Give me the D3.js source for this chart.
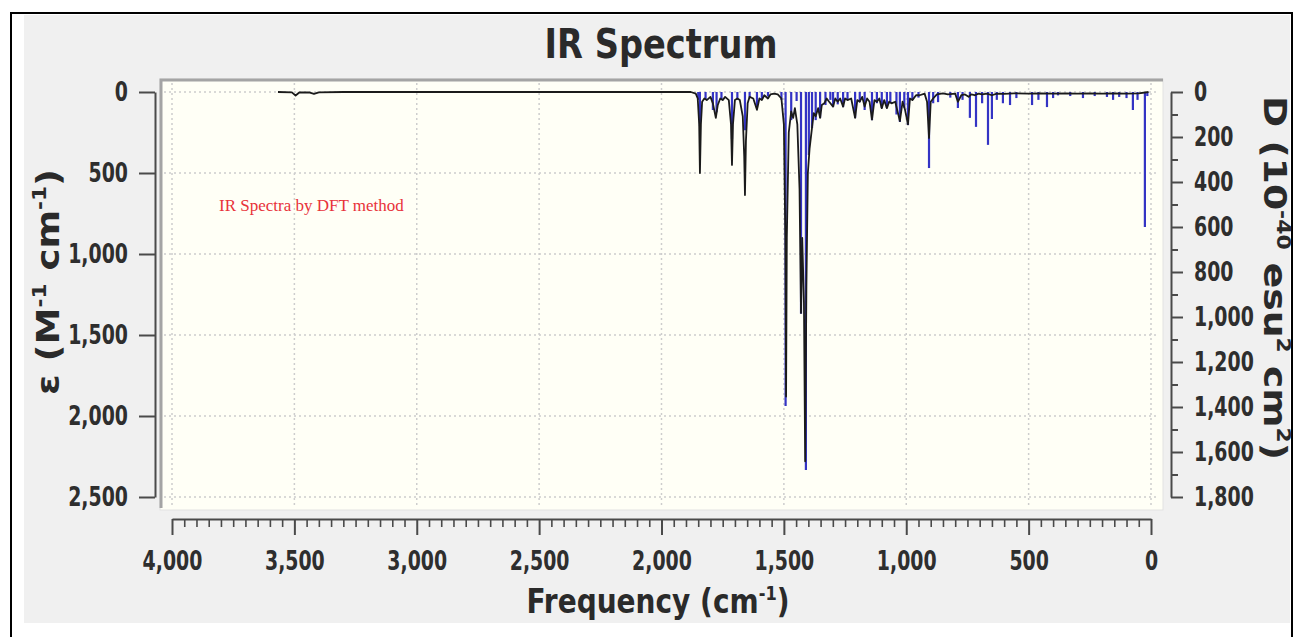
<!DOCTYPE html>
<html>
<head>
<meta charset="utf-8">
<script src="https://cdn.jsdelivr.net/npm/d3@7"></script>
<style>
  body { margin: 0; background: #fff; }
  svg { display: block; }
</style>
</head>
<body>
<div id="chart"></div>
<script>
// tick values
const freqTicks = [4000, 3500, 3000, 2500, 2000, 1500, 1000, 500, 0]
const epsTicks = [0, 500, 1000, 1500, 2000, 2500]
const dipTicks = [0, 200, 400, 600, 800, 1000, 1200, 1400, 1600, 1800]

// computed stick spectrum: frequency (cm-1) and dipole strength D (10^-40 esu^2 cm^2)
const stickFreq = [1850, 1843, 1820, 1790, 1775, 1755, 1712, 1690, 1659, 1640, 1610, 1590, 1565, 1510, 1493,
    1470, 1448, 1430, 1410, 1398, 1385, 1370, 1352, 1330, 1310, 1299, 1280, 1258, 1240, 1209, 1190, 1170,
    1140, 1120, 1100, 1079, 1065, 1040, 1026, 1008, 993, 975, 950, 907, 890, 870, 820, 789, 770, 740, 715,
    690, 666, 650, 630, 605, 576, 550, 486, 460, 425, 400, 380, 330, 278, 230, 180, 155, 130, 100, 74, 55, 25, 15]
const stickD = [35, 150, 35, 80, 90, 35, 210, 35, 170, 25, 70, 35, 20, 35, 1395,
    125, 40, 985, 1680, 280, 160, 125, 115, 58, 35, 67, 55, 67, 35, 115, 45, 80,
    125, 50, 71, 71, 50, 100, 133, 70, 147, 35, 25, 338, 50, 45, 25, 71, 35, 115, 155,
    50, 235, 120, 35, 50, 58, 27, 58, 35, 67, 27, 15, 18, 27, 18, 22, 35, 22, 27, 80, 35, 600, 18]

// broadened spectrum: frequency (cm-1) and molar absorptivity (M-1 cm-1)
const lineFreq = [3567, 3510, 3495, 3480, 3440, 3420, 3400, 3300, 2800, 2300, 1880, 1860,
    1852, 1846, 1843, 1839, 1834, 1825, 1815, 1800, 1790, 1778, 1770, 1760, 1750, 1740, 1725,
    1716, 1712, 1708, 1700, 1690, 1680, 1668, 1662, 1659, 1655, 1648, 1640, 1625, 1610, 1600,
    1590, 1580, 1565, 1555, 1540, 1525, 1510, 1500, 1494, 1491, 1488, 1480, 1470, 1462, 1455,
    1445, 1436, 1430, 1425, 1418, 1413, 1408, 1402, 1395, 1385, 1378, 1370, 1360, 1352, 1345,
    1335, 1325, 1315, 1299, 1290, 1280, 1270, 1258, 1250, 1240, 1225, 1209, 1200, 1190, 1180,
    1170, 1160, 1150, 1140, 1130, 1120, 1110, 1100, 1090, 1079, 1070, 1060, 1045, 1026, 1015,
    1005, 993, 985, 975, 960, 945, 925, 915, 907, 900, 890, 875, 850, 830, 800, 789, 775, 760,
    745, 735, 720, 705, 690, 670, 650, 630, 600, 560, 500, 450, 400, 350, 300, 250, 200, 150,
    100, 50, 10]
const lineEps = [0, 2, 22, 3, 2, 12, 2, 0, 0, 0, 0, 10,
    40, 200, 500, 200, 60, 40, 50, 30, 70, 160, 80, 40, 50, 30, 50,
    200, 450, 200, 50, 40, 50, 150, 400, 636, 300, 70, 30, 40, 110, 40,
    50, 20, 40, 15, 10, 15, 40, 200, 900, 1880, 900, 250, 120, 160, 100,
    200, 600, 1364, 900, 1300, 2280, 1200, 500, 350, 220, 130, 150, 100, 160, 80,
    70, 40, 60, 90, 40, 60, 40, 90, 40, 50, 40, 160, 50, 60, 30,
    90, 40, 60, 170, 50, 60, 40, 100, 50, 100, 60, 70, 60, 180, 60,
    110, 200, 40, 50, 20, 20, 10, 60, 284, 60, 40, 15, 8, 15, 10, 60, 20, 15,
    30, 15, 20, 10, 15, 10, 20, 10, 12, 8, 10, 8, 10, 8, 10, 8, 10, 8,
    10, 8, 0]

const width = 1296
const height = 637
const font = "'DejaVu Sans', sans-serif"

const svg = d3.select('#chart').append('svg')
    .attr('width', width)
    .attr('height', height)

// frame and panel
svg.append('rect')
    .attr('x', 24).attr('y', 15)
    .attr('width', 1266).attr('height', 608)
    .attr('fill', '#f0f0f0')
svg.append('path')
    .attr('d', 'M11,637V13H1292V637')
    .attr('fill', 'none')
    .attr('stroke', '#000')
    .attr('stroke-width', 2)

// plot area
const plot = {left: 160, top: 79, right: 1163, bottom: 510}
svg.append('rect')
    .attr('x', plot.left).attr('y', plot.top)
    .attr('width', plot.right - plot.left).attr('height', plot.bottom - plot.top)
    .attr('fill', '#fffff6')
    .attr('stroke', '#e2e2e2')
svg.append('path')
    .attr('d', `M${plot.left + 1},${plot.bottom - 2}V${plot.top + 1}H${plot.right}`)
    .attr('fill', 'none')
    .attr('stroke', '#a4a4a4')
    .attr('stroke-width', 3)

// scales
const x = d3.scaleLinear().domain([4000, 0]).range([172, 1151])
const yE = d3.scaleLinear().domain([0, 2500]).range([92, 497])
const yD = d3.scaleLinear().domain([0, 1800]).range([92, 497])

// grid
const grid = svg.append('g')
    .attr('stroke', '#cdcdcd')
    .attr('stroke-width', 1.5)
    .attr('stroke-dasharray', '2,3')
grid.selectAll('.gx').data(freqTicks).join('line')
    .attr('x1', d => x(d)).attr('x2', d => x(d))
    .attr('y1', plot.top + 4).attr('y2', plot.bottom - 2)
grid.selectAll('.gy').data(epsTicks).join('line')
    .attr('y1', d => yE(d)).attr('y2', d => yE(d))
    .attr('x1', plot.left + 4).attr('x2', plot.right - 4)

// sticks
svg.append('g')
    .selectAll('line')
    .data(stickFreq.map((f, i) => [f, stickD[i]]))
    .join('line')
    .attr('x1', d => x(d[0])).attr('x2', d => x(d[0]))
    .attr('y1', yD(0)).attr('y2', d => yD(d[1]))
    .attr('stroke', '#3434c4')
    .attr('stroke-width', 2.2)

// broadened line
svg.append('path')
    .datum(lineFreq.map((f, i) => [f, lineEps[i]]))
    .attr('fill', 'none')
    .attr('stroke', '#1b1b1b')
    .attr('stroke-width', 1.8)
    .attr('stroke-linejoin', 'round')
    .attr('d', d3.line().x(d => x(d[0])).y(d => yE(d[1])))

// squeeze tick labels to the narrow look of the original
function squeeze(sel, k) {
    sel.each(function () {
        const len = this.getComputedTextLength()
        d3.select(this).attr('textLength', len * k).attr('lengthAdjust', 'spacingAndGlyphs')
    })
}

function styleAxis(g) {
    g.select('.domain').attr('stroke', '#4a4a4a').attr('stroke-width', 2)
    g.selectAll('.tick line').attr('stroke', '#4a4a4a').attr('stroke-width', 2)
    g.selectAll('.tick text')
        .attr('fill', '#2e2e2e')
        .style('font-family', font)
        .style('font-weight', 'bold')
        .style('font-size', '27px')
}

// left axis
const leftAxis = svg.append('g')
    .attr('transform', 'translate(155,0)')
    .call(d3.axisLeft(yE).tickValues(epsTicks).tickSize(16).tickSizeOuter(0).tickPadding(11).tickFormat(d3.format(',')))
styleAxis(leftAxis)
squeeze(leftAxis.selectAll('.tick text'), 0.7)

// right axis
const rightAxis = svg.append('g')
    .attr('transform', 'translate(1171,0)')
    .call(d3.axisRight(yD).tickValues(dipTicks).tickSize(12).tickSizeOuter(0).tickPadding(11).tickFormat(d3.format(',')))
styleAxis(rightAxis)
squeeze(rightAxis.selectAll('.tick text'), 0.7)
svg.append('g')
    .attr('transform', 'translate(1171,0)')
    .call(d3.axisRight(yD).tickValues(d3.range(100, 1800, 200)).tickSize(7).tickFormat(''))
    .call(g => g.select('.domain').remove())
    .call(g => g.selectAll('.tick line').attr('stroke', '#4a4a4a').attr('stroke-width', 2))

// bottom axis
const bottomAxis = svg.append('g')
    .attr('transform', 'translate(0,519)')
    .call(d3.axisBottom(x).tickValues(freqTicks).tickSize(16).tickSizeOuter(0).tickPadding(16).tickFormat(d3.format(',')))
styleAxis(bottomAxis)
squeeze(bottomAxis.selectAll('.tick text'), 0.7)
svg.append('g')
    .attr('transform', 'translate(0,519)')
    .call(d3.axisBottom(x).tickValues(d3.range(50, 4000, 50).filter(d => d % 500 !== 0)).tickSize(8).tickFormat(''))
    .call(g => g.select('.domain').remove())
    .call(g => g.selectAll('.tick line').attr('stroke', '#4a4a4a').attr('stroke-width', 1.6))

// titles: laid out at natural width, then scaled horizontally to the target length
function title(parts, xPos, yPos, size, len, rotate) {
    const t = svg.append('text')
        .attr('text-anchor', 'middle')
        .attr('fill', '#2a2a2a')
        .style('font-family', font)
        .style('font-weight', 'bold')
        .style('font-size', size + 'px')
    parts.forEach(([s, sup]) => {
        t.append('tspan')
            .attr('dy', sup ? -size * 0.4 : (t.selectAll('tspan').size() > 0 ? size * 0.4 : 0))
            .style('font-size', sup ? (size * 0.58) + 'px' : null)
            .text(s)
    })
    // reset dy of plain parts that do not follow a superscript
    let prevSup = false
    t.selectAll('tspan').each(function (_, i) {
        const sup = parts[i][1]
        d3.select(this).attr('dy', sup ? -size * 0.4 : (prevSup ? size * 0.4 : 0))
        prevSup = !!sup
    })
    const k = len / t.node().getComputedTextLength()
    t.attr('transform', `translate(${xPos},${yPos}) rotate(${rotate}) scale(${k},1)`)
    return t
}

title([['IR Spectrum']], 661, 58, 40, 233, 0)
title([['Frequency (cm'], ['-1', true], [')']], 658, 613, 33, 263, 0)
title([['ε (M'], ['-1', true], [' cm'], ['-1', true], [')']], 59, 282, 32, 226, -90)
title([['D (10'], ['-40', true], [' esu'], ['2', true], [' cm'], ['2', true], [')']], 1264, 278, 32, 364, 90)

// annotation
svg.append('text')
    .attr('x', 219).attr('y', 211)
    .attr('fill', '#e8323a')
    .style('font-family', "'Liberation Serif', serif")
    .style('font-size', '17px')
    .text('IR Spectra by DFT method')
</script>
</body>
</html>
